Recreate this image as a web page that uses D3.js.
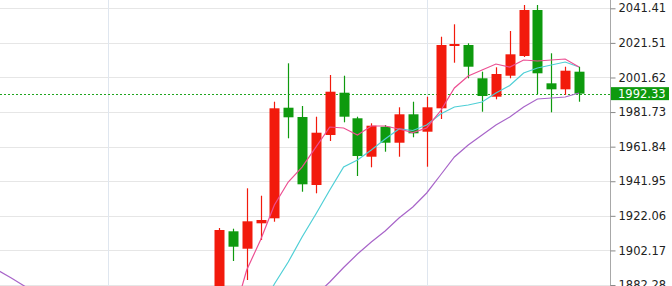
<!DOCTYPE html>
<html>
<head>
<meta charset="utf-8">
<script src="https://cdn.jsdelivr.net/npm/d3@7"></script>
<style>
  html, body { margin: 0; padding: 0; background: #fff; overflow: hidden; }
  svg { display: block; }
</style>
</head>
<body>
<div id="chart"></div>
<script>
// candles, index 0 = first visible candle
var opens  = [1873.65, 1913.16, 1903.15, 1917.76, 1920.64, 1984.24, 1978.89, 1939.79, 1968.54, 1992.87,
              1978.15, 1956.06, 1973.31, 1964.11, 1980.45, 1970.44, 1983.90, 2019.73, 2020.30, 2001.15,
              1990.57, 2002.65, 2013.97, 2040.43, 1998.27, 1994.82, 2004.95];
var highs  = [1915.06, 1914.66, 1937.89, 1933.63, 1987.69, 2009.77, 1985.22, 1979.07, 2003.05, 2002.65,
              1979.07, 1975.27, 1974.29, 1984.47, 1987.69, 1990.57, 2025.07, 2032.21, 2021.28, 2004.95,
              2007.47, 2028.35, 2043.30, 2043.30, 2015.53, 2007.82, 2007.82];
var lows   = [1867.90, 1896.08, 1885.15, 1908.16, 1918.68, 1966.64, 1935.93, 1935.01, 1965.09, 1975.85,
              1944.96, 1949.97, 1958.94, 1956.06, 1967.22, 1950.31, 1977.74, 2010.12, 2001.15, 1981.94,
              1989.07, 2001.15, 2013.40, 1992.12, 1981.60, 1991.55, 1987.69];
var closes = [1913.91, 1904.30, 1918.91, 1919.66, 1983.90, 1978.72, 1940.19, 1969.86, 1993.44, 1979.07,
              1956.46, 1973.89, 1964.11, 1980.45, 1969.52, 1984.47, 2020.30, 2020.87, 2007.82, 1990.97,
              2003.62, 2014.95, 2040.43, 2004.03, 1994.82, 2005.52, 1992.33];

// moving averages (pink, cyan, purple)
var maFast = [null, 1863.0, 1890.9, 1908.16, 1928.3, 1941.51, 1950.1, 1961.6, 1973.14, 1972.57,
              1968.54, 1973.72, 1973.72, 1972.0, 1969.98, 1972.57, 1982.35, 1995.57, 2002.47, 2005.92,
              2009.37, 2007.65, 2011.67, 2011.10, 2011.67, 2012.25, 2007.65];
var maMid  = [null, null, null, 1868.0, 1882.85, 1895.5, 1909.88, 1923.11, 1936.91, 1950.14,
              1954.16, 1959.92, 1966.24, 1972.0, 1971.13, 1974.3, 1980.62, 1984.65, 1985.79, 1987.5,
              1992.7, 1997.01, 2004.2, 2007.07, 2008.8, 2010.52, 2007.65];
var maSlow = [null, null, null, null, null, null, null, 1876.5, 1884.0, 1892.34,
              1900.1, 1907.0, 1913.33, 1920.8, 1927.13, 1935.2, 1945.54, 1955.89, 1962.79, 1968.54,
              1974.29, 1978.9, 1984.65, 1989.24, 1989.82, 1990.4, 1992.7];
// purple line at the far left, candles -16 .. -13
var maSlowLead = [1890.9, 1886.3, 1881.4, 1876.5];
var leadStart = -16;

var priceTicks = [2041.41, 2021.51, 2001.62, 1981.73, 1961.84, 1941.95, 1922.06, 1902.17, 1882.28];
var gridDays = [-8, 15];
var lastPrice = 1992.33;

var width = 672, height = 286, plotRight = 610;
var upColor = "#f21a0c", downColor = "#0e9a0e";

var svg = d3.select("#chart")
  .append("svg")
    .attr("width", width)
    .attr("height", height);

svg.append("defs").append("clipPath")
    .attr("id", "plotClip")
  .append("rect")
    .attr("x", 0).attr("y", 0)
    .attr("width", plotRight).attr("height", height);

var x = d3.scaleLinear()
  .domain([0, 26])
  .range([219, 579]);

var y = d3.scaleLinear()
  .domain([1882.28, 2041.41])
  .range([285, 8.3]);

var candles = closes.map(function(c, i) {
  return {i: i, open: opens[i], high: highs[i], low: lows[i], close: c};
});

// grid
svg.append("g")
  .selectAll("line")
  .data(priceTicks)
  .enter()
  .append("line")
    .attr("x1", 0)
    .attr("x2", plotRight)
    .attr("y1", d => Math.round(y(d)) + 0.5)
    .attr("y2", d => Math.round(y(d)) + 0.5)
    .style("stroke", "#e6e6e6");

svg.append("g")
  .selectAll("line")
  .data(gridDays)
  .enter()
  .append("line")
    .attr("x1", d => Math.round(x(d)) + 0.5)
    .attr("x2", d => Math.round(x(d)) + 0.5)
    .attr("y1", 0)
    .attr("y2", height)
    .style("stroke", "#dfe6ef");

var plot = svg.append("g").attr("clip-path", "url(#plotClip)");

// last price line
plot.append("line")
  .attr("x1", 0)
  .attr("x2", plotRight)
  .attr("y1", Math.round(y(lastPrice)) + 0.5)
  .attr("y2", Math.round(y(lastPrice)) + 0.5)
  .style("stroke", "#1ea51e")
  .style("stroke-dasharray", "2,2");

// candles
var candle = plot.selectAll("g.candle")
  .data(candles)
  .enter()
  .append("g")
    .attr("class", "candle");

candle.append("line")
  .attr("x1", d => Math.round(x(d.i)) + 0.5)
  .attr("x2", d => Math.round(x(d.i)) + 0.5)
  .attr("y1", d => y(d.high))
  .attr("y2", d => y(d.low))
  .style("stroke", d => d.close >= d.open ? upColor : downColor)
  .style("stroke-width", 1.2);

candle.append("rect")
  .attr("x", d => Math.round(x(d.i)) - 4.5)
  .attr("y", d => y(Math.max(d.open, d.close)))
  .attr("width", 10)
  .attr("height", d => Math.max(1.5, Math.abs(y(d.open) - y(d.close))))
  .style("fill", d => d.close >= d.open ? upColor : downColor);

// moving averages
var line = d3.line()
  .defined(d => d.v != null)
  .x(d => x(d.i))
  .y(d => y(d.v));

function series(values, start) {
  return values.map(function(v, k) { return {i: k + start, v: v}; });
}

var maLines = [
  {values: series(maSlowLead, leadStart), color: "#a865c9"},
  {values: series(maSlow, 0), color: "#a865c9"},
  {values: series(maMid, 0), color: "#4fcfd6"},
  {values: series(maFast, 0), color: "#ec4f92"}
];

plot.selectAll("path.ma")
  .data(maLines)
  .enter()
  .append("path")
    .attr("class", "ma")
    .attr("d", d => line(d.values))
    .style("fill", "none")
    .style("stroke", d => d.color)
    .style("stroke-width", 1.2);

// price axis
var axis = svg.append("g")
  .attr("transform", "translate(" + (plotRight + 0.5) + ",0)")
  .call(d3.axisRight(y).tickValues(priceTicks).tickSize(5).tickPadding(3).tickFormat(d3.format(".2f")));

axis.select(".domain")
  .attr("d", "M0,0V" + height)
  .style("stroke", "#a8a8a8");
axis.selectAll(".tick line").style("stroke", "#888");
axis.selectAll(".tick text")
  .style("font-family", "DejaVu Sans, sans-serif")
  .style("font-size", "11.5px")
  .style("fill", "#222");

// last price tag
var tag = svg.append("g")
  .attr("transform", "translate(" + (plotRight + 1) + "," + y(lastPrice) + ")");

tag.append("rect")
  .attr("x", 0)
  .attr("y", -6.5)
  .attr("width", 58)
  .attr("height", 13)
  .style("fill", "#0e9a0e");

tag.append("text")
  .attr("x", 7)
  .attr("y", 0)
  .attr("dy", "0.35em")
  .style("font-family", "DejaVu Sans, sans-serif")
  .style("font-size", "11.5px")
  .style("fill", "#fff")
  .text(d3.format(".2f")(lastPrice));
</script>
</body>
</html>
